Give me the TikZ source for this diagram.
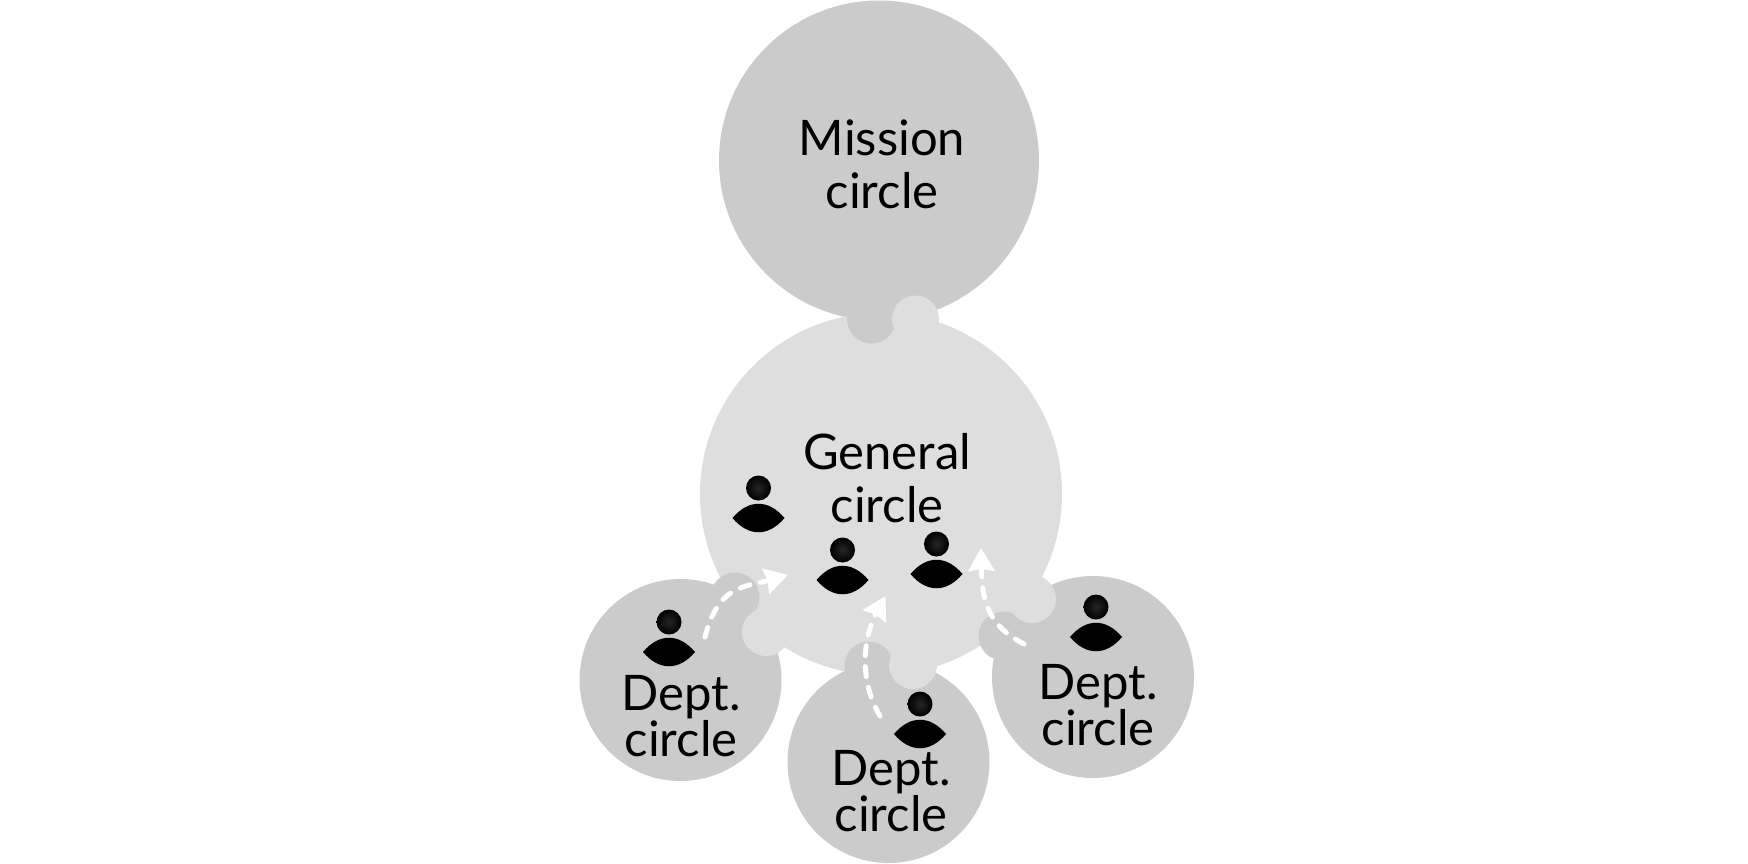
\documentclass[tikz,border=0pt]{standalone}
\usepackage{fontspec}
\setmainfont{Lato}
\usetikzlibrary{arrows.meta}
\definecolor{darkg}{HTML}{CBCBCB}
\definecolor{lightg}{HTML}{DEDEDE}
\tikzset{
  x=1pt,y=-1pt,
  disc/.style={circle,inner sep=0pt,outer sep=0pt,minimum size=#1},
  darkdisc/.style={disc=#1,fill=darkg},
  lightdisc/.style={disc=#1,fill=lightg},
  bigtext/.style={align=center,inner sep=0pt,font=\fontsize{49}{53}\selectfont},
  depttext/.style={align=center,inner sep=0pt,font=\fontsize{49}{46}\selectfont},
  flow/.style={draw=white,line width=5pt,line cap=round,dash pattern=on 10pt off 11pt,
     -{Stealth[length=23pt,width=26pt,inset=2pt,color=white,sep=0pt]}},
  person/.pic={
    \shade[inner color=black!85,outer color=black!100] (0,-30) circle[radius=12.5];
    \fill[black] (-26,0) .. controls (-10,-19) and (10,-19) .. (26,0) .. controls (10,19) and (-10,19) .. (-26,0) -- cycle;
  }
}
\begin{document}
\begin{tikzpicture}
\useasboundingbox (0,0) rectangle (1748,863);
% circles
\node[darkdisc=320] (mission) at (879,160.5) {};
\node[darkdisc=202] (deptL) at (680.5,680) {};
\node[darkdisc=202] (deptB) at (888.5,762) {};
\node[darkdisc=202] (deptR) at (1093,677) {};
\node[lightdisc=362] (general) at (881,494) {};
% tabs
\node[darkdisc=49] (tabM) at (871.5,319) {};
\node[lightdisc=47] (tabG) at (915.5,319) {};
\node[darkdisc=49] (tabLd) at (735,597) {};
\node[lightdisc=48] (tabLl) at (766,632) {};
\node[darkdisc=49] (tabBd) at (869,666) {};
\node[lightdisc=48] (tabBl) at (913,665) {};
\node[darkdisc=49] (tabRd) at (1003,636) {};
\node[lightdisc=48] (tabRl) at (1032,599) {};
% labels
\node[bigtext] (tM) at (882,164) {Mission\\circle};
\node[bigtext] (tG) at (887,478) {General\\circle};
\node[depttext] (tL) at (681,716) {Dept.\\circle};
\node[depttext] (tB) at (891,791) {Dept.\\circle};
\node[depttext] (tR) at (1098,705) {Dept.\\circle};
% people
\pic at (758.5,518) {person};
\pic at (842.5,580) {person};
\pic at (936.5,574) {person};
\pic at (669,652) {person};
\pic at (920,734) {person};
\pic at (1096,637) {person};
% flows
\coordinate (aL) at (705,637);
\coordinate (bL) at (788,575);
\coordinate (aB) at (880,716);
\coordinate (bB) at (885.5,596);
\coordinate (aR) at (1024,644);
\coordinate (bR) at (981,548);
\draw[flow] (aL) .. controls (718,585) and (745,587) .. (bL);
\draw[flow] (aB) .. controls (856,675) and (866,632) .. (bB);
\draw[flow] (aR) .. controls (987,625) and (982,600) .. (bR);
\end{tikzpicture}
\end{document}
